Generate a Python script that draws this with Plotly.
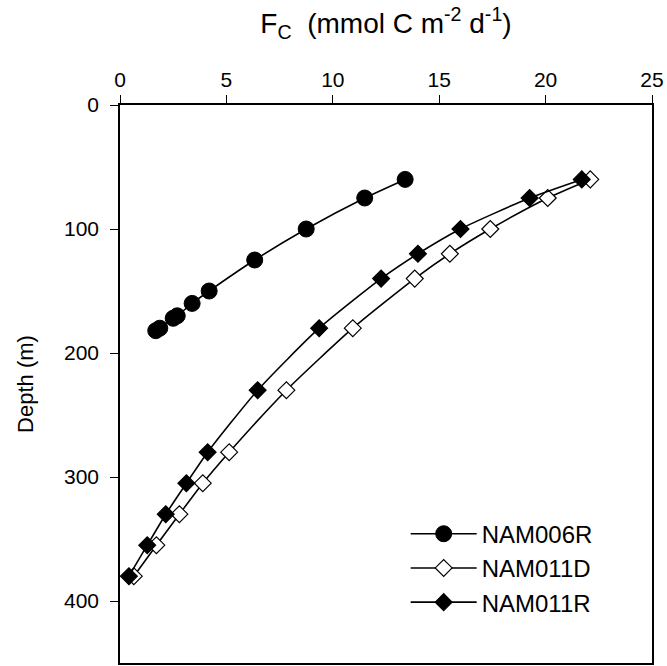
import plotly.graph_objects as go

# NAM006R (filled circles)
d006r = [60, 75, 100, 125, 150, 160, 170, 172, 180, 182]
f006r = [13.4, 11.5, 8.75, 6.33, 4.19, 3.39, 2.69, 2.5, 1.87, 1.68]

# NAM011D (open diamonds)
d011d = [60, 75, 100, 120, 140, 180, 230, 280, 305, 330, 355, 380]
f011d = [22.1, 20.1, 17.4, 15.5, 13.85, 10.94, 7.82, 5.13, 3.89, 2.79, 1.71, 0.65]

# NAM011R (filled diamonds)
d011r = [60, 75, 100, 120, 140, 180, 230, 280, 305, 330, 355, 380]
f011r = [21.7, 19.25, 16.0, 14.0, 12.27, 9.36, 6.47, 4.12, 3.12, 2.15, 1.28, 0.42]

x_ticks = [0, 5, 10, 15, 20, 25]
y_ticks = [0, 100, 200, 300, 400]

fig = go.Figure()
fig.add_trace(go.Scatter(
    x=f006r, y=d006r, name="NAM006R", mode="lines+markers",
    line=dict(color="black", width=1.6, shape="spline", smoothing=0.6),
    marker=dict(symbol="circle", size=16, color="black", line=dict(color="black", width=1)),
))
fig.add_trace(go.Scatter(
    x=f011d, y=d011d, name="NAM011D", mode="lines+markers",
    line=dict(color="black", width=1.6, shape="spline", smoothing=0.6),
    marker=dict(symbol="diamond", size=13, color="white", line=dict(color="black", width=1.2)),
))
fig.add_trace(go.Scatter(
    x=f011r, y=d011r, name="NAM011R", mode="lines+markers",
    line=dict(color="black", width=1.6, shape="spline", smoothing=0.6),
    marker=dict(symbol="diamond", size=13, color="black", line=dict(color="black", width=1.2)),
))

fig.update_layout(
    width=667, height=666,
    margin=dict(l=120, r=15, t=105, b=1),
    plot_bgcolor="white", paper_bgcolor="white",
    font=dict(family="Liberation Sans, Arial, sans-serif", color="black", size=22),
    showlegend=True,
    legend=dict(x=0.537, y=0.17, xanchor="left", yanchor="middle",
                font=dict(size=24), bgcolor="rgba(0,0,0,0)",
                itemwidth=66, tracegroupgap=0),
)
fig.update_xaxes(
    side="top", range=[0, 25], tickvals=x_ticks,
    ticks="outside", ticklen=8, tickwidth=1.2, tickcolor="black",
    showline=True, linecolor="black", linewidth=1.5, mirror=True,
    showgrid=False, zeroline=False,
    tickfont=dict(size=21),
    title=dict(text="F<sub>C</sub>  (mmol C m<sup>-2</sup> d<sup>-1</sup>)",
               font=dict(size=28), standoff=26),
)
fig.update_yaxes(
    range=[450, 0], tickvals=y_ticks,
    ticks="outside", ticklen=8, tickwidth=1.2, tickcolor="black",
    showline=True, linecolor="black", linewidth=1.5, mirror=True,
    showgrid=False, zeroline=False,
    tickfont=dict(size=21), ticklabelstandoff=7,
    title=dict(text="Depth (m)", font=dict(size=22), standoff=24),
)

fig.write_html("out.html", config={"displayModeBar": False},
               post_script="document.body.style.margin='0';")
